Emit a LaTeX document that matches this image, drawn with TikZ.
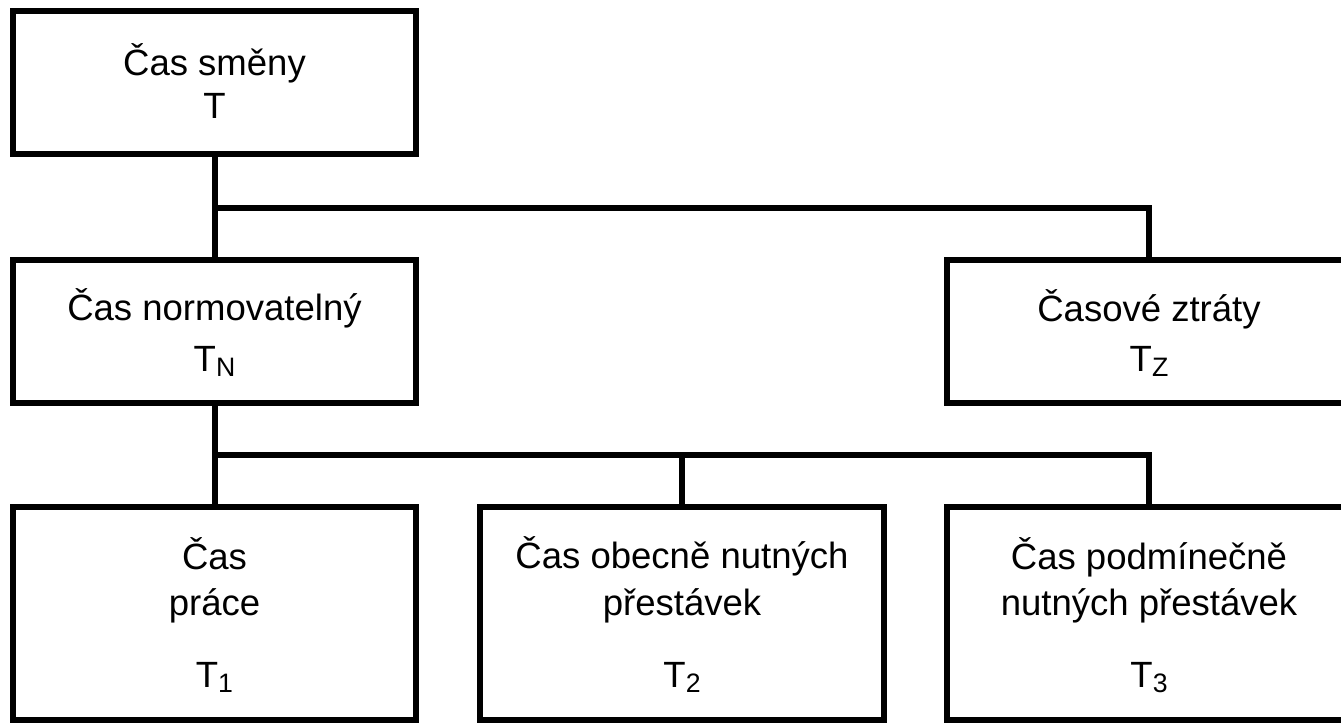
\documentclass[tikz,border=0pt]{standalone}
\usepackage{fontspec}
\setmainfont{Liberation Sans}
\newcommand\mysub[1]{\raisebox{-3.8pt}{\fontsize{20pt}{20pt}\selectfont #1}}
\tikzset{
  box/.style={draw=black, line width=4.5pt, rectangle, inner sep=0pt, minimum width=302.5pt},
  rowbox/.style={box, minimum height=107.6pt},
  tallbox/.style={box, minimum height=159.4pt},
  lbl/.style={anchor=base, inner sep=0pt, font=\fontsize{27.4pt}{32pt}\selectfont},
  conn/.style={draw=black, line width=4.5pt}
}
\begin{document}
\begin{tikzpicture}[x=0.75pt, y=-0.75pt]
\useasboundingbox (0,0) rectangle (1341,722);
\clip (0,0) rectangle (1341,722);
\fill[white] (0,0) rectangle (1341,722);
% boxes
\node[rowbox] (b1) at (214.5,82.75) {};
\node[rowbox] (b2) at (214.5,331.25) {};
\node[rowbox] (b3) at (1149,331.25) {};
\node[tallbox] (b4) at (214.5,613.25) {};
\node[tallbox] (b5) at (682,613.25) {};
\node[tallbox] (b6) at (1149,613.25) {};
% labels
\node[lbl] (t1a) at (214.5,75) {Čas směny};
\node[lbl] (t1b) at (214.5,118) {T};
\node[lbl] (t2a) at (214.5,320) {Čas normovatelný};
\node[lbl] (t2b) at (214.5,371) {T\mysub{N}};
\node[lbl] (t3a) at (1149,321.5) {Časové ztráty};
\node[lbl] (t3b) at (1149,371.5) {T\mysub{Z}};
\node[lbl] (t4a) at (214.5,569) {Čas};
\node[lbl] (t4b) at (214.5,615) {práce};
\node[lbl] (t4c) at (214.5,687) {T\mysub{1}};
\node[lbl] (t5a) at (682,568) {Čas obecně nutných};
\node[lbl] (t5b) at (682,615) {přestávek};
\node[lbl] (t5c) at (682,687) {T\mysub{2}};
\node[lbl] (t6a) at (1149,569.5) {Čas podmínečně};
\node[lbl] (t6b) at (1149,615) {nutných přestávek};
\node[lbl] (t6c) at (1149,687) {T\mysub{3}};
% junctions
\coordinate (j1) at (214.5,208);
\coordinate (j2) at (1149,208);
\coordinate (k1) at (214.5,455);
\coordinate (k2) at (682,455);
\coordinate (k3) at (1149,455);
% connectors
\draw[conn] (b1.south) -- (b2.north);
\draw[conn] (j1) -- (j2) -- (b3.north);
\draw[conn] (b2.south) -- (b4.north);
\draw[conn] (k1) -- (k3) -- (b6.north);
\draw[conn] (k2) -- (b5.north);
\end{tikzpicture}
\end{document}
